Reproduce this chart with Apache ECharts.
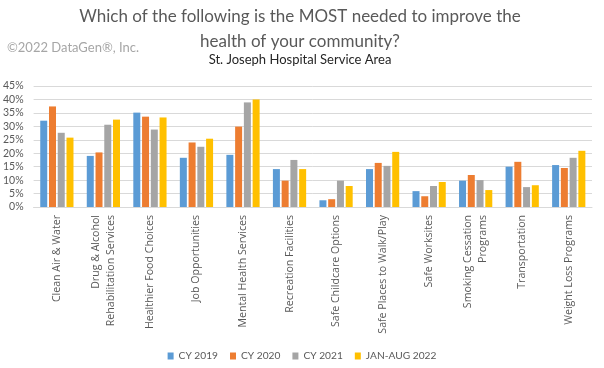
<!DOCTYPE html>
<html><head><meta charset="utf-8">
<script src="https://cdn.jsdelivr.net/npm/echarts@6/dist/echarts.min.js"></script>
<style>html,body{margin:0;padding:0;background:#fff}#c{width:604px;height:368px}</style>
</head><body><div id="c"></div>
<script>
const categories = ["Clean Air & Water","Drug & Alcohol\nRehabilitation Services","Healthier Food Choices","Job Opportunities","Mental Health Services","Recreation Facilities","Safe Childcare Options","Safe Places to Walk/Play","Safe Worksites","Smoking Cessation\nPrograms","Transportation","Weight Loss Programs"];
const cy2019 = [32.1,19.0,35.1,18.3,19.4,14.1,2.5,14.1,5.9,9.8,15.0,15.6];
const cy2020 = [37.4,20.3,33.6,24.0,29.9,9.8,2.9,16.4,4.0,11.9,16.8,14.5];
const cy2021 = [27.6,30.6,28.8,22.4,38.9,17.5,9.8,15.3,7.8,10.0,7.4,18.3];
const jan2022 = [25.8,32.5,33.3,25.4,40.0,14.1,7.8,20.5,9.3,6.3,8.1,20.9];
const seriesNames = ["CY 2019","CY 2020","CY 2021","JAN-AUG 2022"];
const colors = ["#5B9BD5","#ED7D31","#A5A5A5","#FFC000"];
const FONT = "Lato";
const LFONT = "Open Sans";
const chart = echarts.init(document.getElementById('c'), null, {renderer:'canvas'});
const mk = (name, data, i) => ({name, type:'bar', data, barWidth:7, barGap:'25%', itemStyle:{color:colors[i]}});
chart.setOption({
  animation:false,
  textStyle:{fontFamily:FONT},
  color:colors,
  graphic:[
    {type:'text', x:300, y:17, style:{text:'Which of the following is the MOST needed to improve the', fill:'#595959', font:'17px '+FONT, align:'center', verticalAlign:'middle'}},
    {type:'text', x:300, y:42, style:{text:'health of your community?', fill:'#595959', font:'17px '+FONT, align:'center', verticalAlign:'middle'}},
    {type:'text', x:300, y:60, style:{text:'St. Joseph Hospital Service Area', fill:'#262626', font:'13px '+FONT, align:'center', verticalAlign:'middle'}},
    {type:'text', x:7, y:48, style:{text:'©2022 DataGen®, Inc.', fill:'#a6a6a6', font:'13px '+FONT, align:'left', verticalAlign:'middle'}}
  ],
  legend:{data:seriesNames, left:'center', top:346, itemWidth:6, itemHeight:7, itemGap:12, icon:'rect', textStyle:{color:'#595959', fontSize:10.2, fontFamily:FONT}},
  grid:{left:33, right:12, top:86, bottom:161, containLabel:false},
  xAxis:{type:'category', data:categories, axisTick:{show:false}, axisLine:{lineStyle:{color:'#d9d9d9'}},
    axisLabel:{rotate:90, interval:0, color:'#595959', fontSize:10.6, fontFamily:LFONT, margin:8, lineHeight:15}},
  yAxis:{type:'value', min:0, max:45, interval:5, axisLine:{show:false}, axisTick:{show:false},
    splitLine:{lineStyle:{color:'#d9d9d9'}},
    axisLabel:{formatter:'{value}%', color:'#595959', fontSize:10.5, fontFamily:FONT, margin:10}},
  series:[mk(seriesNames[0],cy2019,0),mk(seriesNames[1],cy2020,1),mk(seriesNames[2],cy2021,2),mk(seriesNames[3],jan2022,3)]
});
</script></body></html>
